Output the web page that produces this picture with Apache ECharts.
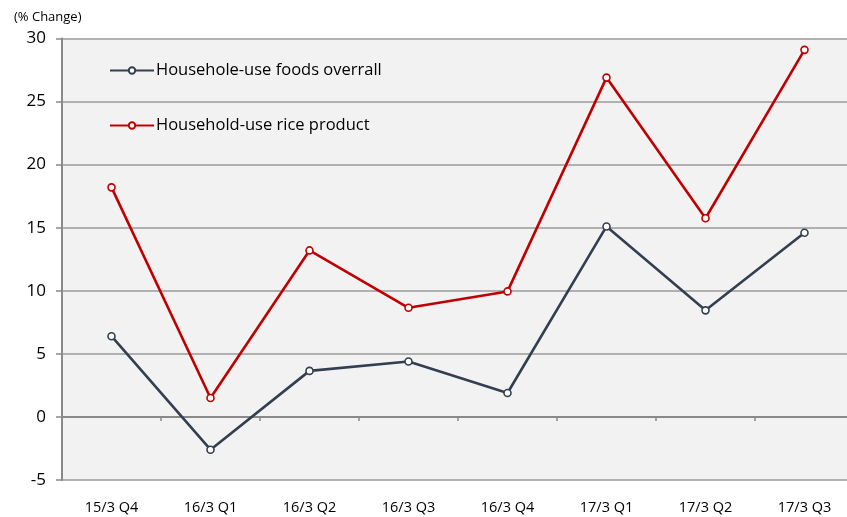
<!DOCTYPE html>
<html>
<head>
<meta charset="utf-8">
<script src="https://cdn.jsdelivr.net/npm/echarts@6/dist/echarts.min.js"></script>
<style>
  html, body { margin: 0; padding: 0; background: #ffffff; }
  #chart { width: 847px; height: 517px; }
</style>
</head>
<body>
<div id="chart"></div>
<script>
// Quarterly change, %
const categories = ['15/3 Q4', '16/3 Q1', '16/3 Q2', '16/3 Q3', '16/3 Q4', '17/3 Q1', '17/3 Q2', '17/3 Q3'];
const foodsOverall = [6.4, -2.6, 3.65, 4.4, 1.9, 15.1, 8.45, 14.6];
const riceProduct = [18.2, 1.5, 13.2, 8.65, 9.95, 26.9, 15.75, 29.1];
const seriesNames = ['Househole-use foods overrall', 'Household-use rice product'];
const yTicks = { min: -5, max: 30, interval: 5 };

const FONT = '"Open Sans", "Noto Sans", sans-serif';
const chart = echarts.init(document.getElementById('chart'), null, { renderer: 'canvas' });

function lineSeries(name, data, color) {
  return {
    name: name,
    type: 'line',
    data: data,
    symbol: 'circle',
    symbolSize: 7,
    showSymbol: true,
    lineStyle: { color: color, width: 2.6 },
    itemStyle: { color: '#ffffff', borderColor: color, borderWidth: 1.6 },
    emphasis: { disabled: true },
    z: 3
  };
}

chart.setOption({
  animation: false,
  backgroundColor: '#ffffff',
  title: {
    text: '(% Change)',
    left: 9,
    top: 6,
    textStyle: { fontFamily: FONT, fontSize: 13, fontWeight: 'normal', color: '#000000' }
  },
  legend: {
    orient: 'vertical',
    left: 104,
    top: 57,
    itemGap: 38,
    itemWidth: 44,
    itemHeight: 8,
    textStyle: { fontFamily: FONT, fontSize: 16.5, color: '#000000', padding: [0, 0, 0, -3] },
    data: seriesNames
  },
  grid: {
    left: 62,
    top: 38.5,
    bottom: 37,
    width: 792,
    outerBoundsMode: 'none',
    containLabel: false,
    show: true,
    backgroundColor: '#f2f2f2',
    borderWidth: 0
  },
  xAxis: {
    type: 'category',
    data: categories,
    boundaryGap: true,
    axisLine: { show: true, lineStyle: { color: '#898989', width: 2 } },
    axisTick: { show: true, alignWithLabel: false, length: 4, lineStyle: { color: '#898989', width: 1.5 } },
    axisLabel: { fontFamily: FONT, fontSize: 14.5, color: '#000000', margin: 20 },
    splitLine: { show: false }
  },
  yAxis: {
    type: 'value',
    min: yTicks.min,
    max: yTicks.max,
    interval: yTicks.interval,
    axisLine: { show: true, lineStyle: { color: '#898989', width: 2 } },
    axisTick: { show: true, length: 6, lineStyle: { color: '#898989', width: 1.5 } },
    axisLabel: { fontFamily: FONT, fontSize: 17, color: '#000000', margin: 16 },
    splitLine: { show: true, lineStyle: { color: '#9a9a9a', width: 1.6 } }
  },
  series: [
    lineSeries(seriesNames[0], foodsOverall, '#333f50'),
    lineSeries(seriesNames[1], riceProduct, '#c00000')
  ]
});
</script>
</body>
</html>
